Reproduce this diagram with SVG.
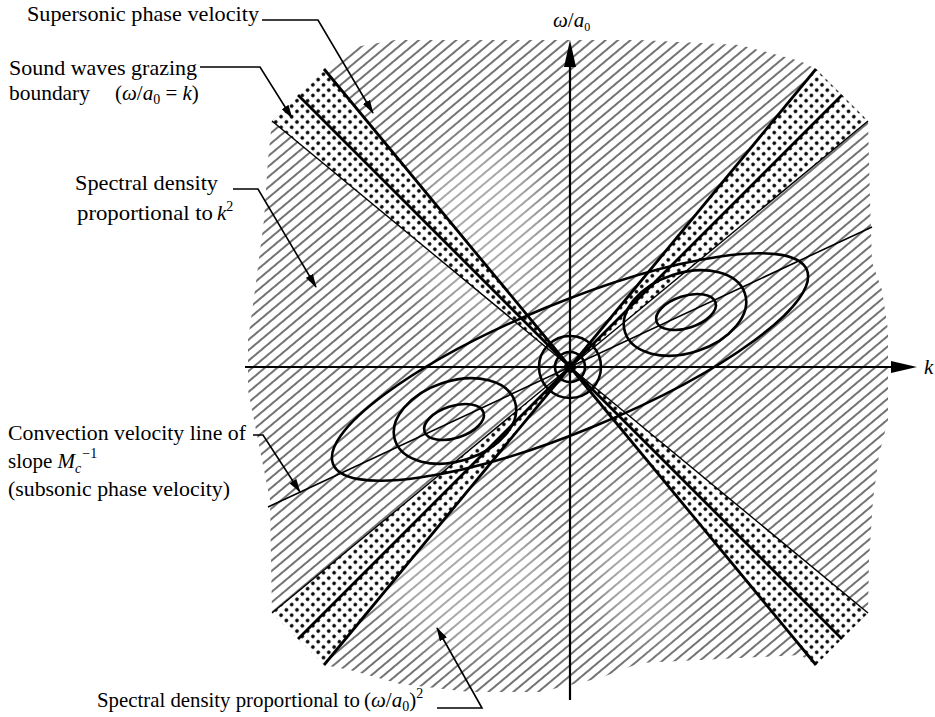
<svg xmlns="http://www.w3.org/2000/svg" width="935" height="717" viewBox="0 0 935 717">
<defs>
<style>
.lbl{font-family:"Liberation Serif","Times New Roman",serif;font-size:21px;fill:#000}
.it{font-style:italic}
.ln{fill:none;stroke:#000;stroke-width:1.6}
.ax{fill:none;stroke:#000;stroke-width:2.2}
.ell{fill:none;stroke:#000;stroke-width:2.6}
.bandline{stroke:#000;stroke-width:2.8;fill:none}
.bandthin{stroke:#000;stroke-width:1.4;fill:none}
.fade{fill:#fff;opacity:0.4;filter:url(#soft)}
</style>
<filter id="soft" x="-30%" y="-30%" width="160%" height="160%">
<feGaussianBlur stdDeviation="18"/>
</filter>
<pattern id="hatch" patternUnits="userSpaceOnUse" width="8" height="8" patternTransform="rotate(-40)">
<rect width="8" height="8" fill="#fff"/>
<line x1="0" y1="4" x2="8" y2="4" stroke="#000" stroke-width="1.1"/>
</pattern>
<pattern id="dots" patternUnits="userSpaceOnUse" width="7.5" height="7.5" patternTransform="rotate(45)">
<rect width="7.5" height="7.5" fill="#fff"/>
<circle cx="3.75" cy="3.75" r="1.8" fill="#000"/>
</pattern>
<marker id="ah" markerWidth="14" markerHeight="8" refX="13" refY="4" orient="auto" markerUnits="userSpaceOnUse">
<path d="M0,0 L14,4 L0,8 Z" fill="#000"/>
</marker>
</defs>
<rect width="935" height="717" fill="#fff"/>

<g id="hatched-region">
<path d="M324,69 L350,48 L395,40 L640,40 L740,45 L800,61 L816,69 L868,121 L870,200 L872,262 L882,290 L888,330 L888,420 L879,455 L873,500 L869,560 L868,613 L816,665 L800,655 L700,660 L640,663 L600,678 L540,692 L470,692 L400,684 L350,670 L324,665 L272,613 L271,560 L270,500 L258,440 L248,390 L248,340 L255,290 L264,220 L268,160 L272,121 Z" fill="url(#hatch)"/>
<ellipse class="fade" cx="480" cy="230" rx="70" ry="90"/>
<ellipse class="fade" cx="470" cy="580" rx="90" ry="70"/>
<ellipse class="fade" cx="640" cy="560" rx="50" ry="80"/>
</g>

<g id="band-nw">
<polygon points="570,367 324,69 272,121" fill="url(#dots)"/>
<line class="bandline" x1="570" y1="367" x2="324" y2="69"/>
<line class="bandline" x1="570" y1="367" x2="298" y2="95"/>
<line class="bandthin" x1="570" y1="367" x2="272" y2="121"/>
</g>
<g id="band-se">
<polygon points="570,367 816,665 868,613" fill="url(#dots)"/>
<line class="bandline" x1="570" y1="367" x2="816" y2="665"/>
<line class="bandline" x1="570" y1="367" x2="842" y2="639"/>
<line class="bandthin" x1="570" y1="367" x2="868" y2="613"/>
</g>
<g id="band-ne">
<polygon points="570,367 816,69 868,121" fill="url(#dots)"/>
<line class="bandline" x1="570" y1="367" x2="816" y2="69"/>
<line class="bandline" x1="570" y1="367" x2="842" y2="95"/>
<line class="bandthin" x1="570" y1="367" x2="868" y2="121"/>
</g>
<g id="band-sw">
<polygon points="570,367 324,665 272,613" fill="url(#dots)"/>
<line class="bandline" x1="570" y1="367" x2="324" y2="665"/>
<line class="bandline" x1="570" y1="367" x2="298" y2="639"/>
<line class="bandthin" x1="570" y1="367" x2="272" y2="613"/>
</g>

<g id="convection-line">
<line x1="268" y1="507" x2="872" y2="227" stroke="#000" stroke-width="1.6"/>
</g>

<g id="axes">
<line class="ax" x1="570" y1="700" x2="570" y2="60"/>
<polygon points="570,40 564,67 576,67" fill="#000"/>
<line class="ax" x1="245" y1="367" x2="895" y2="367"/>
<polygon points="917,367 891,361 891,373" fill="#000"/>
</g>

<g id="ellipses">
<ellipse class="ell" cx="570" cy="367" rx="256" ry="64" transform="rotate(-22.3 570 367)"/>
<ellipse class="ell" cx="685" cy="313" rx="63" ry="40" transform="rotate(-18 685 313)"/>
<ellipse class="ell" cx="686" cy="312" rx="31" ry="16" transform="rotate(-18 686 312)"/>
<ellipse class="ell" cx="455" cy="421" rx="63" ry="40" transform="rotate(-18 455 421)"/>
<ellipse class="ell" cx="454" cy="422" rx="31" ry="16" transform="rotate(-18 454 422)"/>
<circle class="ell" cx="570" cy="367" r="31"/>
<circle class="ell" cx="570" cy="367" r="15"/>
<circle cx="570" cy="367" r="6" fill="#000"/>
</g>

<g id="connectors">
<path class="ln" d="M262,20 H318 L373,113" marker-end="url(#ah)"/>
<path class="ln" d="M200,67 H260 L292,118" marker-end="url(#ah)"/>
<path class="ln" d="M233,189 H258 L316,287" marker-end="url(#ah)"/>
<path class="ln" d="M253,435 H263 L300,492" marker-end="url(#ah)"/>
<path class="ln" d="M437,708 H482 L437,628" marker-end="url(#ah)"/>
</g>

<g id="label-supersonic">
<text class="lbl" x="27" y="21" textLength="232" lengthAdjust="spacingAndGlyphs">Supersonic phase velocity</text>
</g>
<g id="label-sound">
<text class="lbl" x="9" y="75" textLength="188" lengthAdjust="spacingAndGlyphs">Sound waves grazing</text>
<text class="lbl" x="9" y="100" textLength="81" lengthAdjust="spacingAndGlyphs">boundary</text>
<text class="lbl" x="115" y="100">(<tspan class="it">ω</tspan>/<tspan class="it">a</tspan><tspan font-size="14" dy="4">0</tspan><tspan dy="-4"> = </tspan><tspan class="it">k</tspan>)</text>
</g>
<g id="label-k2">
<text class="lbl" x="75" y="190" textLength="143" lengthAdjust="spacingAndGlyphs">Spectral density</text>
<text class="lbl" x="77" y="220"><tspan textLength="136" lengthAdjust="spacingAndGlyphs">proportional to</tspan><tspan class="it" x="217">k</tspan><tspan font-size="14" dy="-9">2</tspan></text>
</g>
<g id="label-convection">
<text class="lbl" x="8" y="440" textLength="238" lengthAdjust="spacingAndGlyphs">Convection velocity line of</text>
<text class="lbl" x="8" y="468">slope <tspan class="it">M</tspan><tspan class="it" font-size="14" dy="5">c</tspan><tspan font-size="14" dx="1" dy="-15">−1</tspan></text>
<text class="lbl" x="8" y="496" textLength="222" lengthAdjust="spacingAndGlyphs">(subsonic phase velocity)</text>
</g>
<g id="label-omega2">
<text class="lbl" x="97" y="707"><tspan textLength="263" lengthAdjust="spacingAndGlyphs">Spectral density proportional to</tspan><tspan x="364">(</tspan><tspan class="it">ω</tspan>/<tspan class="it">a</tspan><tspan font-size="14" dy="4">0</tspan><tspan dy="-4">)</tspan><tspan font-size="14" dy="-9">2</tspan></text>
</g>
<g id="label-axis-omega">
<text class="lbl" x="553" y="27" font-size="17"><tspan class="it">ω</tspan>/<tspan class="it">a</tspan><tspan font-size="12" dy="4">0</tspan></text>
</g>
<g id="label-axis-k">
<text class="lbl it" x="924" y="374">k</text>
</g>
</svg>
